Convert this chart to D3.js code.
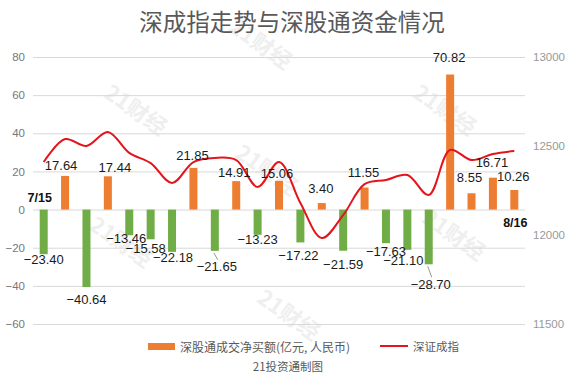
<!DOCTYPE html>
<html>
<head>
<meta charset="utf-8">
<script src="https://cdn.jsdelivr.net/npm/d3@7"></script>
<style>
	body { margin: 0; background: #fff; }
	svg text { font-family: "Liberation Sans", Arial, "Noto Sans CJK SC", sans-serif; }
	.cjk { font-family: "Noto Sans CJK SC", sans-serif; }
</style>
</head>
<body>
<div id="graphic"></div>
<script>
// trading days 2022-07-15 .. 2022-08-16
const dates = ['7/15', '7/18', '7/19', '7/20', '7/21', '7/22', '7/25', '7/26', '7/27', '7/28', '7/29',
	'8/1', '8/2', '8/3', '8/4', '8/5', '8/8', '8/9', '8/10', '8/11', '8/12', '8/15', '8/16'];

// 深股通成交净买额 (亿元)
const netBuy = [-23.40, 17.64, -40.64, 17.44, -13.46, -15.58, -22.18, 21.85, -21.65, 14.91, -13.23, 15.06,
	-17.22, 3.40, -21.59, 11.55, -17.63, -21.10, -28.70, 70.82, 8.55, 16.71, 10.26];

// 深证成指
const szIndex = [12410, 12539, 12500, 12579, 12461, 12404, 12292, 12410, 12433, 12421, 12270, 12410,
	12180, 11983, 12112, 12286, 12309, 12337, 12225, 12478, 12421, 12455, 12472];

const leftTicks = [-60, -40, -20, 0, 20, 40, 60, 80];
const rightTicks = [11500, 12000, 12500, 13000];

// label nudges [dx, dy] from the bar end (layout only)
const labelNudge = [[0, 5], [-4, -10], [0, 12], [7, -9], [-3, 3], [-5, 9], [1, 6], [-1, -12], [2, 16], [-2, -9],
	[0, 5], [-2, -7], [-2, 13], [-1, -15], [0, 14], [-1, -15], [0, 8], [-4, 11], [2, 20], [-1, -17],
	[-2, -16], [-1, -15], [-1, -14]];
const leaderLines = [8, 18];

const watermarks = [[137, 108], [446, 108], [290, 313], [455, 233], [268, 168], [262, 42], [122, 240]];

const width = 567, height = 378;
const margin = { top: 57, right: 42, bottom: 54, left: 33 };
const orange = '#ed7d31', green = '#70ad47', red = '#e3141b';

const svg = d3.select('#graphic').append('svg')
	.attr('width', width)
	.attr('height', height);

// watermark
svg.append('g').selectAll('text')
	.data(watermarks)
	.join('text')
	.attr('transform', (d) => `translate(${d[0]},${d[1]}) rotate(35)`)
	.attr('text-anchor', 'middle')
	.attr('dominant-baseline', 'central')
	.attr('class', 'cjk')
	.attr('font-size', 22)
	.attr('font-weight', 'bold')
	.attr('fill', '#efefef')
	.text('21财经');

const x = d3.scaleBand()
	.domain(dates)
	.range([margin.left, width - margin.right])
	.padding(0);

const y = d3.scaleLinear()
	.domain([-60, 80])
	.range([height - margin.bottom, margin.top]);

const yR = d3.scaleLinear()
	.domain([11500, 13000])
	.range([height - margin.bottom, margin.top]);

const cx = (d) => x(d) + x.bandwidth() / 2;
const barW = 8;

// gridlines + left labels
const yAxis = d3.axisLeft(y)
	.tickValues(leftTicks)
	.tickSize(-(width - margin.left - margin.right))
	.tickPadding(8)
	.tickFormat(d3.format('d'));

const gy = svg.append('g')
	.attr('transform', `translate(${margin.left},0)`)
	.call(yAxis);
gy.select('.domain').remove();
gy.selectAll('line').attr('stroke', '#d9d9d9');
gy.selectAll('text').attr('fill', '#777').attr('font-size', 11.5);

const yAxisR = d3.axisRight(yR)
	.tickValues(rightTicks)
	.tickSize(0)
	.tickPadding(8)
	.tickFormat(d3.format('d'));

const gyr = svg.append('g')
	.attr('transform', `translate(${width - margin.right},0)`)
	.call(yAxisR);
gyr.select('.domain').remove();
gyr.selectAll('text').attr('fill', '#999').attr('font-size', 11.5);

// bars
svg.append('g').selectAll('rect')
	.data(netBuy)
	.join('rect')
	.attr('x', (d, i) => cx(dates[i]) - barW / 2)
	.attr('y', (d) => y(Math.max(d, 0)))
	.attr('width', barW)
	.attr('height', (d) => Math.abs(y(d) - y(0)))
	.attr('fill', (d) => d >= 0 ? orange : green);

// index line
const line = d3.line()
	.x((d, i) => cx(dates[i]))
	.y((d) => yR(d))
	.curve(d3.curveCatmullRom.alpha(0.5));

svg.append('path')
	.datum(szIndex)
	.attr('d', line)
	.attr('fill', 'none')
	.attr('stroke', red)
	.attr('stroke-width', 2);

// leader lines
svg.append('g').selectAll('line')
	.data(leaderLines)
	.join('line')
	.attr('x1', (i) => cx(dates[i]) - 1)
	.attr('y1', (i) => y(netBuy[i]) + 2)
	.attr('x2', (i) => cx(dates[i]) + 3)
	.attr('y2', (i) => y(netBuy[i]) + labelNudge[i][1] - 7)
	.attr('stroke', '#999')
	.attr('stroke-width', 1);

// value labels
const fmt = d3.format('.2f');
svg.append('g').selectAll('text')
	.data(netBuy)
	.join('text')
	.attr('x', (d, i) => cx(dates[i]) + labelNudge[i][0])
	.attr('y', (d, i) => y(d) + labelNudge[i][1])
	.attr('text-anchor', 'middle')
	.attr('dominant-baseline', 'central')
	.attr('font-size', 13)
	.attr('fill', '#1a1a1a')
	.text((d) => fmt(d));

// first / last date
svg.append('text')
	.attr('x', cx(dates[0]) - 4)
	.attr('y', 198)
	.attr('text-anchor', 'middle')
	.attr('dominant-baseline', 'central')
	.attr('font-size', 12.5)
	.attr('font-weight', 'bold')
	.attr('fill', '#111')
	.text(dates[0]);

svg.append('text')
	.attr('x', cx(dates[dates.length - 1]) + 1)
	.attr('y', 223)
	.attr('text-anchor', 'middle')
	.attr('dominant-baseline', 'central')
	.attr('font-size', 12.5)
	.attr('font-weight', 'bold')
	.attr('fill', '#111')
	.text(dates[dates.length - 1]);

// title
svg.append('text')
	.attr('class', 'cjk')
	.attr('x', 292)
	.attr('y', 21)
	.attr('text-anchor', 'middle')
	.attr('dominant-baseline', 'central')
	.attr('font-size', 23.5)
	.attr('fill', '#595959')
	.text('深成指走势与深股通资金情况');

// legend
const lg = svg.append('g');
lg.append('rect')
	.attr('x', 148).attr('y', 343)
	.attr('width', 27).attr('height', 7)
	.attr('fill', orange);
lg.append('text')
	.attr('class', 'cjk')
	.attr('x', 180).attr('y', 346)
	.attr('dominant-baseline', 'central')
	.attr('font-size', 12)
	.attr('fill', '#595959')
	.text('深股通成交净买额(亿元, 人民币)');
lg.append('line')
	.attr('x1', 380).attr('x2', 408)
	.attr('y1', 346).attr('y2', 346)
	.attr('stroke', red)
	.attr('stroke-width', 2);
lg.append('text')
	.attr('class', 'cjk')
	.attr('x', 413).attr('y', 346)
	.attr('dominant-baseline', 'central')
	.attr('font-size', 11.5)
	.attr('fill', '#595959')
	.text('深证成指');

svg.append('text')
	.attr('class', 'cjk')
	.attr('x', 288).attr('y', 366)
	.attr('text-anchor', 'middle')
	.attr('dominant-baseline', 'central')
	.attr('font-size', 11.5)
	.attr('fill', '#595959')
	.text('21投资通制图');
</script>
</body>
</html>
